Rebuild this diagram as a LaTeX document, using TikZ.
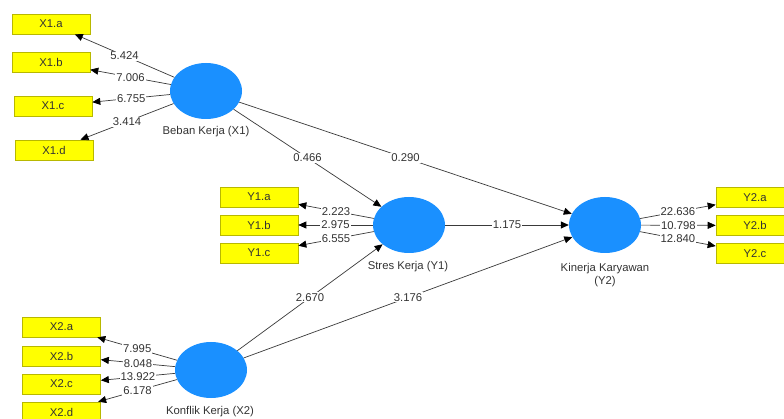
\documentclass[tikz,border=0pt]{standalone}
\usepackage{fontspec}
\setmainfont{Liberation Sans}
\usetikzlibrary{arrows.meta,shapes.geometric}
\definecolor{lvblue}{HTML}{1A90FF}
\definecolor{indyellow}{HTML}{FFFF00}
\definecolor{indborder}{HTML}{B8B800}
\definecolor{txtgray}{HTML}{333333}
\definecolor{linegray}{HTML}{3A3A3A}
\begin{document}
\begin{tikzpicture}[x=1pt,y=-1pt,
  font=\fontsize{11.3}{13}\selectfont,
  latent/.style={ellipse, fill=lvblue, draw=none, minimum width=72pt, minimum height=56pt, inner sep=0pt},
  indbox/.style={rectangle, fill=indyellow, draw=indborder, line width=0.6pt, minimum width=78pt, minimum height=20pt, inner sep=0pt, text=txtgray},
  lvlabel/.style={text=txtgray, align=center, inner sep=1pt},
  wlab/.style={fill=white, inner sep=1pt, text=txtgray},
  conn/.style={draw=linegray, line width=0.7pt, -{Triangle[length=8pt,width=7pt,color=black]}}
]
\clip (0,0) rectangle (784,419);
\fill[white] (0,0) rectangle (784,419);

% latent variables
\node[latent] (X1) at (206,91) {};
\node[latent] (Y1) at (409,225) {};
\node[latent] (Y2) at (605,225) {};
\node[latent] (X2) at (211,370) {};

\node[lvlabel] (lX1) at (206,132) {Beban Kerja (X1)};
\node[lvlabel] (lY1) at (408,267) {Stres Kerja (Y1)};
\node[lvlabel] (lY2) at (605,275) {Kinerja Karyawan\\(Y2)};
\node[lvlabel] (lX2) at (210,412) {Konflik Kerja (X2)};

% indicators X1
\node[indbox] (X1a) at (51,24) {X1.a};
\node[indbox] (X1b) at (51,62.5) {X1.b};
\node[indbox] (X1c) at (53,106) {X1.c};
\node[indbox] (X1d) at (54,150) {X1.d};
% indicators Y1
\node[indbox] (Y1a) at (259,197) {Y1.a};
\node[indbox] (Y1b) at (259,225) {Y1.b};
\node[indbox] (Y1c) at (259,253) {Y1.c};
% indicators Y2
\node[indbox] (Y2a) at (755,197.5) {Y2.a};
\node[indbox] (Y2b) at (755,225.5) {Y2.b};
\node[indbox] (Y2c) at (755,253.5) {Y2.c};
% indicators X2
\node[indbox] (X2a) at (61.5,327) {X2.a};
\node[indbox] (X2b) at (61.5,356) {X2.b};
\node[indbox] (X2c) at (61.5,384) {X2.c};
\node[indbox] (X2d) at (61.5,412) {X2.d};

% outer model arrows
\draw[conn] (X1) -- node[wlab] {5.424} (X1a);
\draw[conn] (X1) -- node[wlab] {7.006} (X1b);
\draw[conn] (X1) -- node[wlab] {6.755} (X1c);
\draw[conn] (X1) -- node[wlab] {3.414} (X1d);

\draw[conn] (Y1) -- node[wlab] {2.223} (Y1a);
\draw[conn] (Y1) -- node[wlab] {2.975} (Y1b);
\draw[conn] (Y1) -- node[wlab] {6.555} (Y1c);

\draw[conn] (Y2) -- node[wlab] {22.636} (Y2a);
\draw[conn] (Y2) -- node[wlab] {10.798} (Y2b);
\draw[conn] (Y2) -- node[wlab] {12.840} (Y2c);

\draw[conn] (X2) -- node[wlab] {7.995} (X2a);
\draw[conn] (X2) -- node[wlab] {8.048} (X2b);
\draw[conn] (X2) -- node[wlab] {13.922} (X2c);
\draw[conn] (X2) -- node[wlab] {6.178} (X2d);

% inner model arrows
\draw[conn] (X1) -- node[wlab] {0.466} (Y1);
\draw[conn] (X1) -- node[wlab] {0.290} (Y2);
\draw[conn] (Y1) -- node[wlab] {1.175} (Y2);
\draw[conn] (X2) -- node[wlab] {2.670} (Y1);
\draw[conn] (X2) -- node[wlab] {3.176} (Y2);
\end{tikzpicture}
\end{document}
